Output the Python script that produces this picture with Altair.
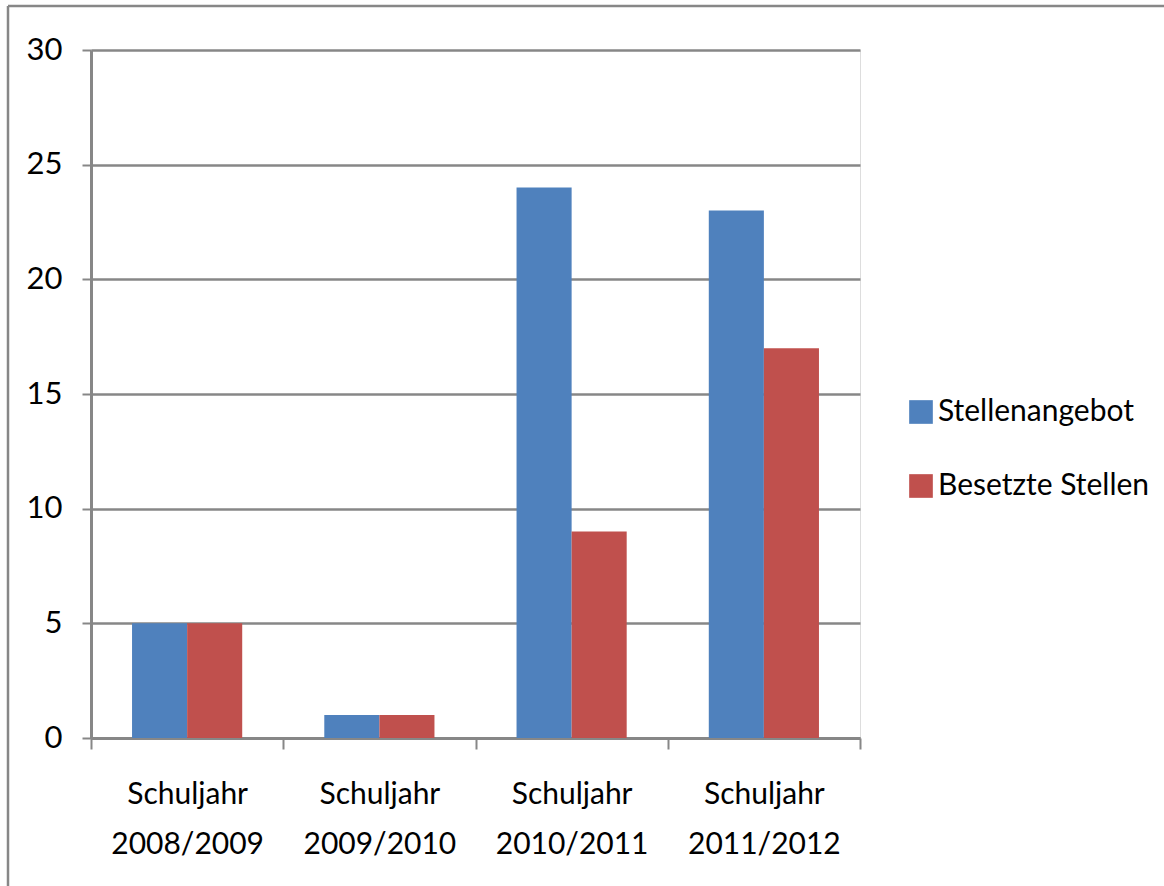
import altair as alt
import pandas as pd

# Schuljahre und Stellenzahlen
jahre = ["Schuljahr 2008/2009", "Schuljahr 2009/2010", "Schuljahr 2010/2011", "Schuljahr 2011/2012"]
serien = ["Stellenangebot", "Besetzte Stellen"]
stellenangebot = [5, 1, 24, 23]
besetzte_stellen = [5, 1, 9, 17]
farben = ["#4F81BD", "#C0504D"]
y_ticks = [0, 5, 10, 15, 20, 25, 30]

rows = []
for j, a, b in zip(jahre, stellenangebot, besetzte_stellen):
    rows.append({"Jahr": j, "Serie": serien[0], "Wert": a})
    rows.append({"Jahr": j, "Serie": serien[1], "Wert": b})
df = pd.DataFrame(rows)

GRAU = "#878787"
FONT = "Lato"
FS = 30

bars = alt.Chart(df).mark_bar(strokeWidth=0).encode(
    x=alt.X(
        "Jahr:N",
        sort=jahre,
        title=None,
        scale=alt.Scale(paddingInner=0, paddingOuter=0),
        axis=alt.Axis(
            labelAngle=0,
            labelExpr="split(datum.label, ' ')",
            labelLineHeight=50,
            labelFontSize=FS,
            labelFont=FONT,
            labelColor="#000000",
            labelPadding=30,
            tickBand="extent",
            tickSize=11,
            tickWidth=2,
            tickColor=GRAU,
            domainColor=GRAU,
            domainWidth=3,
            grid=False,
        ),
    ),
    xOffset=alt.XOffset(
        "Serie:N", sort=serien, scale=alt.Scale(paddingInner=0, paddingOuter=0.745)
    ),
    y=alt.Y(
        "Wert:Q",
        title=None,
        scale=alt.Scale(domain=[0, 30], nice=False),
        axis=alt.Axis(
            values=y_ticks,
            labelFontSize=FS + 1,
            labelFont=FONT,
            labelColor="#000000",
            labelPadding=20,
            tickSize=9,
            tickWidth=2,
            tickColor=GRAU,
            domainColor=GRAU,
            domainWidth=3,
            grid=True,
            gridColor=GRAU,
            gridWidth=2.5,
        ),
    ),
    color=alt.Color(
        "Serie:N",
        sort=serien,
        scale=alt.Scale(domain=serien, range=farben),
        legend=alt.Legend(
            title=None,
            orient="none",
            legendX=815,
            legendY=347,
            symbolType="square",
            symbolSize=560,
            symbolStrokeWidth=0,
            labelFontSize=FS,
            labelFont=FONT,
            labelColor="#000000",
            labelOffset=2,
            labelLimit=0,
            rowPadding=44,
        ),
    ),
)

# Rahmen um das Diagramm (oben und links)
frame_df = pd.DataFrame({"k": [0]})
frame_top = alt.Chart(frame_df).mark_rule(color=GRAU, strokeWidth=2.5).encode(
    x=alt.value(-83), x2=alt.value(1073), y=alt.value(-44)
)
frame_left = alt.Chart(frame_df).mark_rule(color=GRAU, strokeWidth=2.5).encode(
    x=alt.value(-83), y=alt.value(-44), y2=alt.value(836)
)

chart = alt.layer(bars, frame_top, frame_left).properties(
    width=769,
    height=688,
    padding={"left": 91, "top": 50, "right": 304, "bottom": 148},
    autosize="none",
).configure_view(stroke=None).configure(background="#ffffff")

chart.save("out.html", embed_options={"renderer": "svg", "actions": False})
